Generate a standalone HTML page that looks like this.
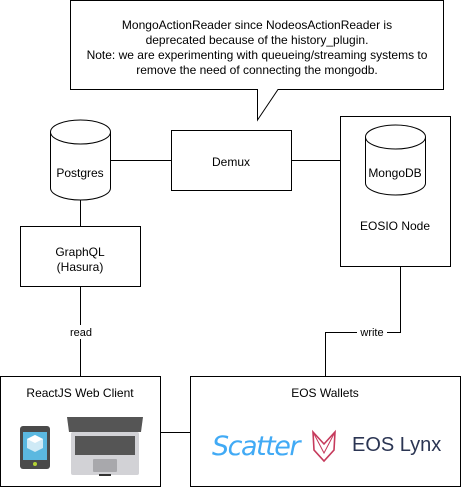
<!DOCTYPE html>
<html><head><style>
html,body{margin:0;padding:0;background:#fff;}
svg{display:block;font-family:"Liberation Sans",Arial,sans-serif;}
</style></head><body>
<svg width="461" height="492" viewBox="0 0 461 492" xmlns="http://www.w3.org/2000/svg">
<g fill="none" stroke="#000" stroke-width="1">
<!-- callout -->
<path d="M70.5 0.5 H443.5 V89.5 H278 L257.5 120 V89.5 H70.5 Z" fill="#fff"/>
<!-- connectors -->
<path d="M110 160.5 H171"/>
<path d="M291 160.5 H365"/>
<path d="M80.5 200 V226"/>
<path d="M80.5 286 V376"/>
<path d="M400.5 266 V332.5 H325.5 V376"/>
<path d="M160 432.5 H190"/>
<!-- boxes -->
<rect x="171.5" y="130.5" width="120" height="60" fill="#fff"/>
<rect x="340.5" y="116.5" width="110" height="150" fill="#fff"/>
<rect x="20.5" y="226.5" width="120" height="60" fill="#fff"/>
<rect x="0.5" y="376.5" width="160" height="110" fill="#fff"/>
<rect x="190.5" y="376.5" width="270" height="110" fill="#fff"/>
<!-- postgres cylinder -->
<path d="M50.5 132 V188 A30 12 0 0 0 110.5 188 V132 A30 12 0 0 0 50.5 132 Z" fill="#fff"/>
<path d="M50.5 132 A30 12 0 0 0 110.5 132"/>
<!-- mongo cylinder -->
<path d="M365.5 137 V183 A30 12 0 0 0 425.5 183 V137 A30 12 0 0 0 365.5 137 Z" fill="#fff"/>
<path d="M365.5 137 A30 12 0 0 0 425.5 137"/>
</g>
<!-- label backgrounds -->
<rect x="66" y="325" width="30" height="14" fill="#fff"/>
<rect x="357" y="326" width="30" height="13" fill="#fff"/>
<g font-size="12" fill="#000" text-anchor="middle">
<text x="257" y="29">MongoActionReader since NodeosActionReader is</text>
<text x="257" y="44">deprecated because of the history_plugin.</text>
<text x="257" y="59">Note: we are experimenting with queueing/streaming systems to</text>
<text x="257" y="74">remove the need of connecting the mongodb.</text>
<text x="231" y="166">Demux</text>
<text x="80" y="177">Postgres</text>
<text x="395" y="177">MongoDB</text>
<text x="395" y="230">EOSIO Node</text>
<text x="80" y="256">GraphQL</text>
<text x="80" y="271">(Hasura)</text>
<text x="80" y="397">ReactJS Web Client</text>
<text x="325" y="397">EOS Wallets</text>
<text x="81" y="336" font-size="11">read</text>
<text x="372" y="336" font-size="11">write</text>
</g>
<!-- phone -->
<rect x="20" y="426" width="30" height="43" rx="3" fill="#4a4a4a"/>
<rect x="23" y="432" width="24" height="28" fill="#5bb8e0"/>
<path d="M35 435 L43 439 L43 448 L35 452 L27 448 L27 439 Z" fill="#cfeaf6"/>
<path d="M27 439 L35 443 L43 439 L35 435 Z" fill="#fff"/>
<circle cx="35" cy="464" r="2" fill="#b5d334"/>
<!-- laptop -->
<path d="M67 417 H143 L141 432 H69 Z" fill="#555"/>
<rect x="71" y="432" width="68" height="43" rx="2" fill="#d2d2d6"/>
<rect x="75" y="436" width="60" height="19" fill="#555"/>
<rect x="93" y="459" width="24" height="13" rx="1" fill="#a8a8ac"/>
<rect x="99" y="474" width="12" height="2" fill="#333"/>
<!-- scatter -->
<text x="212" y="455" font-family="'DejaVu Sans',sans-serif" font-size="27" font-style="italic" fill="#41aaf5" letter-spacing="-1.5">Scatter</text>
<!-- lynx logo -->
<path d="M313 432 L324 444 L335 432 L334 450 L324 461 L314 450 Z" fill="none" stroke="#c63a5c" stroke-width="1.6"/>
<path d="M313 432 L324 453 L335 432" fill="none" stroke="#c63a5c" stroke-width="1"/>
<text x="352" y="451" font-size="20" fill="#2b3553">EOS Lynx</text>
</svg>
</body></html>
